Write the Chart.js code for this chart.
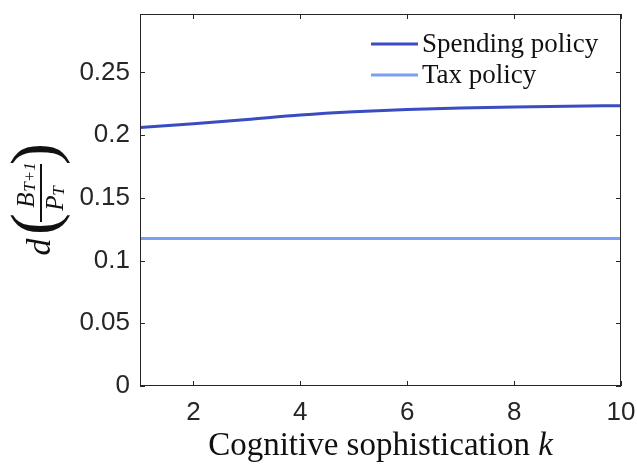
<!DOCTYPE html>
<html>
<head>
<meta charset="utf-8">
<script src="https://cdn.jsdelivr.net/npm/chart.js@4.4.1/dist/chart.umd.min.js"></script>
<style>
  html, body { margin: 0; padding: 0; background: #fff; }
  #wrap { width: 637px; height: 465px; position: relative; }
</style>
</head>
<body>
<div id="wrap"><canvas id="chart"></canvas></div>
<script>
//? DATA
const kValues = [1, 2, 3, 4, 5, 6, 7, 8, 9, 10];
const spendingPolicy = [0.2061, 0.2090, 0.2124, 0.2160, 0.2186, 0.2204, 0.2216, 0.2224, 0.2230, 0.2234];
const taxPolicy = [0.1176, 0.1176, 0.1176, 0.1176, 0.1176, 0.1176, 0.1176, 0.1176, 0.1176, 0.1176];
const xTicks = [2, 4, 6, 8, 10];
const yTicks = [0, 0.05, 0.1, 0.15, 0.2, 0.25];
const seriesNames = ['Spending policy', 'Tax policy'];
const xTitle = 'Cognitive sophistication ';
const xTitleVar = 'k';

const axisColor = '#262626';
const tickFont = { family: "'Liberation Sans', Arial, sans-serif", size: 26 };
const serif = "'Liberation Serif', 'Times New Roman', serif";

//? box round the plot + ticks pointing inwards (matlab style)
const boxPlugin = {
    id: 'box',
    afterDatasetsDraw(chart) {
        const { ctx, chartArea: a, scales } = chart;
        ctx.save();
        ctx.strokeStyle = axisColor;
        ctx.lineWidth = 1;
        ctx.strokeRect(a.left + 0.5, a.top + 0.5, a.right - a.left - 1, a.bottom - a.top - 1);
        ctx.beginPath();
        xTicks.forEach(v => {
            const x = Math.round(scales.x.getPixelForValue(v)) + 0.5;
            ctx.moveTo(x, a.bottom); ctx.lineTo(x, a.bottom - 5);
            ctx.moveTo(x, a.top); ctx.lineTo(x, a.top + 5);
        });
        yTicks.forEach(v => {
            const y = Math.round(scales.y.getPixelForValue(v)) + 0.5;
            ctx.moveTo(a.left, y); ctx.lineTo(a.left + 5, y);
            ctx.moveTo(a.right, y); ctx.lineTo(a.right - 5, y);
        });
        ctx.stroke();
        ctx.restore();
    }
};

//? legend without box, top right inside the axes
const legendPlugin = {
    id: 'innerLegend',
    afterDraw(chart) {
        const { ctx, chartArea: a } = chart;
        ctx.save();
        ctx.font = '27px ' + serif;
        ctx.textBaseline = 'middle';
        ctx.textAlign = 'left';
        chart.data.datasets.forEach((ds, i) => {
            const y = a.top + 30 + i * 31;
            ctx.strokeStyle = ds.borderColor;
            ctx.lineWidth = 3;
            ctx.beginPath();
            ctx.moveTo(371, y); ctx.lineTo(418, y);
            ctx.stroke();
            ctx.fillStyle = '#111';
            ctx.fillText(ds.label, 422, y + 1);
        });
        ctx.restore();
    }
};

//? axis labels: x with italic k, y = d( B_{T+1} / P_T ) rotated
const labelsPlugin = {
    id: 'axisLabels',
    afterDraw(chart) {
        const ctx = chart.ctx;
        const a = chart.chartArea;
        ctx.save();
        ctx.fillStyle = '#111';
        ctx.textBaseline = 'middle';
        ctx.textAlign = 'left';
        ctx.font = '33px ' + serif;
        const w1 = ctx.measureText(xTitle).width;
        ctx.font = 'italic 33px ' + serif;
        const w2 = ctx.measureText(xTitleVar).width;
        const cx = (a.left + a.right) / 2;
        let x0 = cx - (w1 + w2) / 2;
        ctx.font = '33px ' + serif;
        ctx.fillText(xTitle, x0, 446);
        ctx.font = 'italic 33px ' + serif;
        ctx.fillText(xTitleVar, x0 + w1, 446);

        ctx.translate(41, 200);
        ctx.rotate(-Math.PI / 2);
        ctx.textAlign = 'center';
        ctx.font = 'italic 34px ' + serif;
        ctx.fillText('d', -47, 0);
        ctx.font = '66px ' + serif;
        ctx.fillText('(', -24, -2);
        ctx.fillText(')', 46, -2);
        ctx.fillRect(-22, -1, 58, 2);
        ctx.font = 'italic 25px ' + serif;
        ctx.fillText('B', 0, -14);
        ctx.fillText('P', -3, 15);
        ctx.font = 'italic 17px ' + serif;
        ctx.fillText('T+1', 23, -10);
        ctx.fillText('T', 9, 19);
        ctx.restore();
    }
};

new Chart(document.getElementById('chart'), {
    type: 'line',
    data: {
        labels: kValues,
        datasets: [
            {
                label: seriesNames[0],
                data: kValues.map((k, i) => ({ x: k, y: spendingPolicy[i] })),
                borderColor: '#3a4cc2',
                borderWidth: 3,
                pointRadius: 0,
                cubicInterpolationMode: 'monotone',
                fill: false
            },
            {
                label: seriesNames[1],
                data: kValues.map((k, i) => ({ x: k, y: taxPolicy[i] })),
                borderColor: '#78a0f4',
                borderWidth: 3,
                pointRadius: 0,
                tension: 0,
                fill: false
            }
        ]
    },
    options: {
        responsive: true,
        maintainAspectRatio: false,
        animation: false,
        layout: { padding: { top: 14, right: 16, left: 0, bottom: 0 } },
        plugins: { legend: { display: false }, tooltip: { enabled: false } },
        scales: {
            x: {
                type: 'linear',
                min: 1, max: 10,
                afterBuildTicks: s => { s.ticks = xTicks.map(v => ({ value: v })); },
                afterFit: s => { s.height = 79; s.paddingLeft = 0; s.paddingRight = 0; },
                grid: { display: false, drawTicks: false },
                border: { display: false },
                ticks: { color: axisColor, font: tickFont, padding: 11, maxRotation: 0 }
            },
            y: {
                min: 0, max: 0.2965,
                afterBuildTicks: s => { s.ticks = yTicks.map(v => ({ value: v })); },
                afterFit: s => { s.width = 140; s.paddingTop = 0; s.paddingBottom = 0; },
                grid: { display: false, drawTicks: false },
                border: { display: false },
                ticks: {
                    color: axisColor, font: tickFont, padding: 10,
                    callback: v => String(Math.round(v * 100) / 100)
                }
            }
        }
    },
    plugins: [boxPlugin, legendPlugin, labelsPlugin]
});
</script>
</body>
</html>
